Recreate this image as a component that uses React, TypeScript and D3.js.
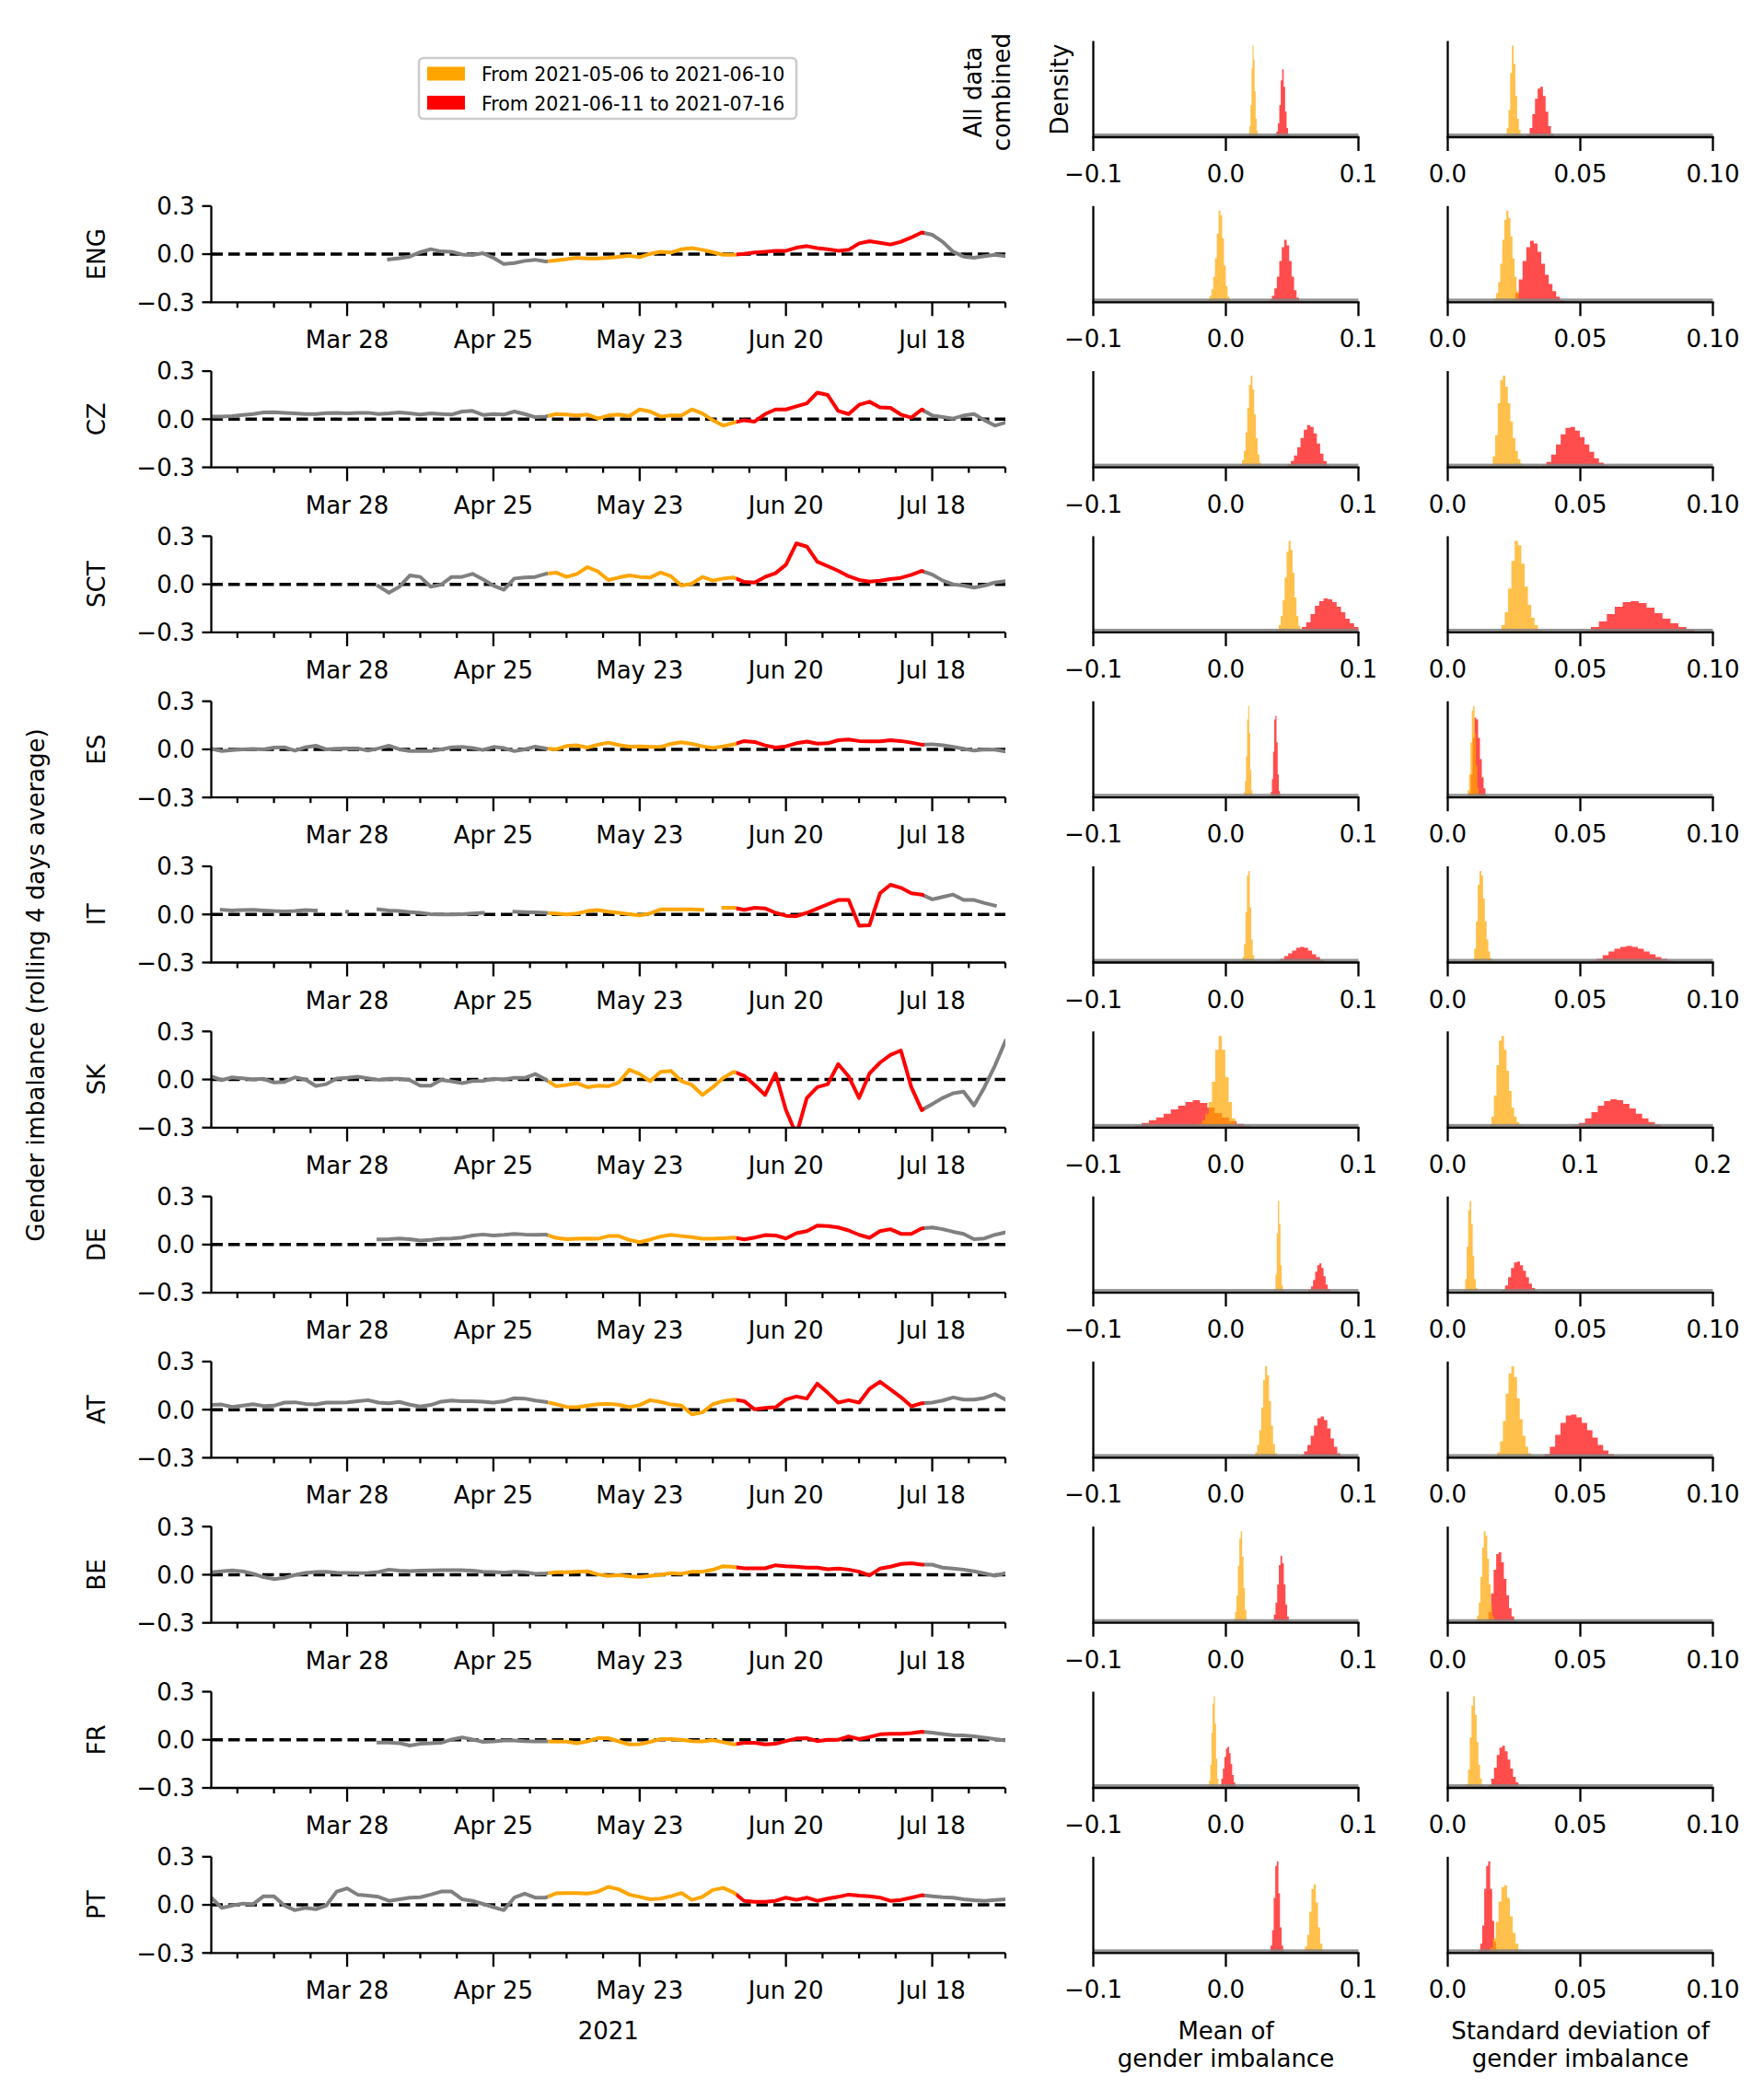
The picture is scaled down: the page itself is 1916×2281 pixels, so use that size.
import React from "react";
import * as d3 from "d3";

const W = 1916;
const H = 2281;

// time series: one value every STEP_DAYS days, starting FIRST_DAY days after 2021-03-02
const ROWS = ["ENG", "CZ", "SCT", "ES", "IT", "SK", "DE", "AT", "BE", "FR", "PT"];
const FIRST_DAY = [34, 0, 32, 0, 2, 0, 32, 0, 0, 32, 0];
const STEP_DAYS = 2;
const ORIGIN = "2021-03-02";
const LAST_DAY = 152;
const PHASE_STARTS = ["2021-05-06", "2021-06-11", "2021-07-17"];
const LEGEND_LABELS = ["From 2021-05-06 to 2021-06-10", "From 2021-06-11 to 2021-07-16"];

const ENG = [
  -0.033, -0.025, -0.015, 0.012, 0.031, 0.017, 0.015, -0.002, -0.006, 0.006,
  -0.023, -0.062, -0.056, -0.042, -0.035, -0.046, -0.038, -0.031, -0.023, -0.027,
  -0.027, -0.023, -0.017, -0.01, -0.019, 0.002, 0.015, 0.01, 0.031, 0.038,
  0.027, 0.012, -0.004, -0.004, 0.002, 0.01, 0.015, 0.021, 0.021, 0.04,
  0.05, 0.038, 0.031, 0.021, 0.027, 0.067, 0.081, 0.071, 0.06, 0.077,
  0.104, 0.135, 0.121, 0.077, 0.015, -0.015, -0.023, -0.013, -0.004, -0.013,
];
const CZ = [
  0.017, 0.017, 0.019, 0.027, 0.032, 0.042, 0.044, 0.04, 0.036, 0.032,
  0.032, 0.038, 0.04, 0.036, 0.04, 0.04, 0.032, 0.036, 0.042, 0.036,
  0.029, 0.036, 0.032, 0.029, 0.048, 0.052, 0.027, 0.032, 0.029, 0.048,
  0.032, 0.013, 0.017, 0.032, 0.029, 0.023, 0.029, 0.004, 0.023, 0.029,
  0.019, 0.061, 0.048, 0.017, 0.023, 0.023, 0.061, 0.036, -0.006, -0.04,
  -0.021, -0.006, -0.015, 0.032, 0.061, 0.061, 0.08, 0.099, 0.166, 0.151,
  0.052, 0.032, 0.09, 0.109, 0.074, 0.071, 0.029, 0.01, 0.061, 0.023,
  0.013, 0.004, 0.023, 0.032, -0.006, -0.04, -0.021,
];
const SCT = [
  -0.011, -0.053, -0.015, 0.055, 0.046, -0.015, -0.002, 0.046, 0.046, 0.065,
  0.031, -0.008, -0.034, 0.036, 0.042, 0.046, 0.065, 0.073, 0.046, 0.065,
  0.107, 0.08, 0.027, 0.042, 0.055, 0.046, 0.042, 0.074, 0.05, -0.008,
  0.004, 0.046, 0.023, 0.036, 0.042, 0.015, 0.011, 0.046, 0.069, 0.122,
  0.255, 0.235, 0.141, 0.113, 0.084, 0.05, 0.027, 0.017, 0.023, 0.032,
  0.04, 0.059, 0.084, 0.061, 0.023, 0.0, -0.008, -0.021, -0.008, 0.011,
  0.019,
];
const ES = [
  0.004, -0.01, -0.004, 0.0, 0.002, 0.0, 0.011, 0.013, -0.008, 0.013,
  0.023, 0.0, 0.004, 0.006, 0.006, -0.008, 0.006, 0.023, 0.0, -0.011,
  -0.011, -0.011, 0.0, 0.013, 0.015, 0.008, -0.004, 0.015, 0.008, -0.011,
  0.0, 0.017, 0.006, 0.0, 0.021, 0.025, 0.011, 0.029, 0.042, 0.027,
  0.017, 0.019, 0.015, 0.015, 0.034, 0.044, 0.034, 0.019, 0.008, 0.019,
  0.031, 0.052, 0.046, 0.025, 0.011, 0.019, 0.038, 0.048, 0.036, 0.038,
  0.057, 0.061, 0.052, 0.05, 0.05, 0.057, 0.052, 0.042, 0.029, 0.032,
  0.025, 0.015, 0.004, -0.008, 0.0, -0.002, -0.013,
];
const IT = [
  0.029, 0.025, 0.027, 0.029, 0.025, 0.021, 0.019, 0.021, 0.027, 0.025,
  null, null, 0.017, null, null, 0.032, 0.025, 0.021, 0.015, 0.01,
  0.002, 0.0, 0.0, 0.002, 0.006, 0.01, null, null, 0.017, 0.015,
  0.013, 0.01, 0.006, 0.0, 0.006, 0.021, 0.027, 0.017, 0.01, 0.002,
  -0.006, 0.006, 0.031, 0.032, 0.032, 0.031, 0.029, null, 0.042, 0.042,
  0.029, 0.042, 0.038, 0.01, -0.008, -0.011, 0.01, 0.036, 0.063, 0.09,
  0.09, -0.071, -0.067, 0.132, 0.185, 0.166, 0.132, 0.124, 0.094, 0.109,
  0.124, 0.09, 0.09, 0.071, 0.055,
];
const SK = [
  0.019, -0.004, 0.013, 0.008, 0.0, 0.004, -0.019, -0.015, 0.013, 0.0,
  -0.04, -0.029, 0.006, 0.011, 0.017, 0.008, -0.002, 0.004, 0.004, -0.004,
  -0.038, -0.038, -0.002, -0.011, -0.023, -0.01, -0.008, 0.004, 0.0, 0.011,
  0.01, 0.034, 0.0, -0.042, -0.034, -0.023, -0.048, -0.038, -0.042, -0.019,
  0.061, 0.034, -0.01, 0.048, 0.053, -0.01, -0.034, -0.096, -0.048, 0.01,
  0.048, 0.023, -0.034, -0.096, 0.038, -0.191, -0.344, -0.115, -0.048, -0.029,
  0.096, 0.019, -0.115, 0.038, 0.105, 0.153, 0.181, -0.048, -0.191, -0.153,
  -0.115, -0.086, -0.076, -0.162, -0.048, 0.086, 0.239,
];
const DE = [
  0.032, 0.034, 0.038, 0.034, 0.025, 0.029, 0.036, 0.038, 0.044, 0.057,
  0.063, 0.057, 0.061, 0.067, 0.063, 0.061, 0.063, 0.042, 0.034, 0.036,
  0.038, 0.036, 0.053, 0.053, 0.029, 0.015, 0.031, 0.05, 0.061, 0.053,
  0.046, 0.036, 0.036, 0.04, 0.044, 0.032, 0.044, 0.059, 0.057, 0.038,
  0.071, 0.084, 0.118, 0.115, 0.107, 0.088, 0.061, 0.042, 0.084, 0.096,
  0.067, 0.067, 0.101, 0.107, 0.096, 0.08, 0.067, 0.034, 0.038, 0.061,
  0.076,
];
const AT = [
  0.029, 0.032, 0.017, 0.025, 0.034, 0.023, 0.025, 0.044, 0.046, 0.036,
  0.032, 0.044, 0.044, 0.046, 0.052, 0.059, 0.044, 0.04, 0.048, 0.031,
  0.019, 0.029, 0.05, 0.057, 0.052, 0.053, 0.05, 0.044, 0.052, 0.071,
  0.069, 0.057, 0.048, 0.034, 0.017, 0.015, 0.025, 0.034, 0.036, 0.031,
  0.015, 0.029, 0.059, 0.048, 0.032, 0.025, -0.029, -0.017, 0.034, 0.053,
  0.063, 0.053, 0.002, 0.011, 0.015, 0.063, 0.082, 0.069, 0.162, 0.105,
  0.044, 0.059, 0.044, 0.13, 0.174, 0.126, 0.078, 0.021, 0.04, 0.044,
  0.057, 0.076, 0.063, 0.063, 0.073, 0.097, 0.063,
];
const BE = [
  0.015, 0.021, 0.027, 0.021, 0.006, -0.015, -0.027, -0.019, -0.002, 0.011,
  0.017, 0.019, 0.013, 0.011, 0.01, 0.011, 0.017, 0.032, 0.025, 0.023,
  0.025, 0.027, 0.029, 0.029, 0.029, 0.025, 0.019, 0.017, 0.013, 0.019,
  0.015, 0.006, 0.008, 0.015, 0.015, 0.019, 0.021, 0.002, -0.008, -0.002,
  -0.01, -0.013, -0.008, 0.0, 0.01, 0.006, 0.019, 0.019, 0.031, 0.053,
  0.048, 0.04, 0.04, 0.04, 0.059, 0.053, 0.05, 0.044, 0.044, 0.034,
  0.038, 0.032, 0.019, -0.004, 0.038, 0.05, 0.067, 0.071, 0.063, 0.063,
  0.044, 0.038, 0.032, 0.021, 0.008, -0.006, 0.01,
];
const FR = [
  -0.017, -0.017, -0.021, -0.036, -0.025, -0.021, -0.019, 0.002, 0.015, 0.002,
  -0.013, -0.01, -0.004, -0.004, -0.008, -0.01, -0.01, -0.011, -0.011, -0.021,
  -0.01, 0.011, 0.01, -0.01, -0.029, -0.027, -0.013, 0.004, 0.004, 0.0,
  -0.008, -0.01, -0.002, -0.015, -0.029, -0.019, -0.019, -0.029, -0.025, -0.008,
  0.008, 0.01, -0.008, 0.0, 0.0, 0.021, 0.004, 0.017, 0.034, 0.038,
  0.038, 0.042, 0.05, 0.044, 0.036, 0.029, 0.027, 0.021, 0.013, 0.004,
  -0.004,
];
const PT = [
  0.045, -0.019, -0.004, 0.008, 0.004, 0.054, 0.054, -0.004, -0.033, -0.019,
  -0.027, -0.004, 0.083, 0.103, 0.064, 0.058, 0.05, 0.025, 0.035, 0.045,
  0.048, 0.064, 0.083, 0.083, 0.035, 0.025, 0.006, -0.014, -0.033, 0.045,
  0.07, 0.045, 0.045, 0.072, 0.074, 0.074, 0.07, 0.083, 0.112, 0.097,
  0.064, 0.05, 0.035, 0.039, 0.054, 0.074, 0.031, 0.05, 0.093, 0.106,
  0.077, 0.025, 0.019, 0.019, 0.025, 0.045, 0.031, 0.045, 0.025, 0.039,
  0.05, 0.064, 0.058, 0.054, 0.045, 0.025, 0.031, 0.045, 0.06, 0.054,
  0.048, 0.045, 0.035, 0.029, 0.025, 0.031, 0.035,
];
const SERIES = [ENG, CZ, SCT, ES, IT, SK, DE, AT, BE, FR, PT];

// histograms: [lo, hi, bin heights (panel peak = 100)], row 0 = all data combined
type Hist = [number, number, number[]];
const MEAN_ORANGE: Hist[] = [
  [0.017, 0.0248, [4, 12, 35, 75, 100, 85, 50, 20, 7, 2]],
  [-0.015, 0.004, [1, 3, 7, 14, 28, 48, 75, 100, 95, 70, 40, 18, 6, 2]],
  [0.0096, 0.0279, [1, 3, 8, 18, 38, 65, 90, 100, 85, 58, 32, 14, 5, 1]],
  [0.0369, 0.0577, [1, 3, 8, 18, 35, 60, 88, 100, 90, 65, 38, 18, 7, 2]],
  [0.0128, 0.0208, [2, 6, 18, 45, 85, 100, 70, 30, 8, 2]],
  [0.0115, 0.0224, [2, 6, 20, 55, 95, 100, 60, 25, 8, 2]],
  [-0.0256, 0.0096, [1, 2, 4, 8, 15, 28, 50, 85, 100, 85, 55, 28, 10, 3]],
  [0.0365, 0.044, [4, 20, 65, 100, 75, 30, 8, 2]],
  [0.0192, 0.04, [1, 2, 6, 14, 30, 55, 85, 100, 90, 62, 35, 15, 5, 1]],
  [0.0048, 0.0176, [1, 4, 12, 30, 62, 92, 100, 72, 38, 14, 4, 1]],
  [-0.0135, -0.0048, [2, 8, 25, 60, 92, 100, 70, 32, 10, 2]],
  [0.058, 0.0744, [2, 7, 20, 45, 70, 75, 55, 28, 10, 3]],
];
const MEAN_RED: Hist[] = [
  [0.037, 0.048, [2, 6, 15, 35, 62, 74, 55, 28, 10, 3]],
  [0.031, 0.057, [1, 3, 7, 15, 28, 45, 60, 68, 62, 45, 28, 13, 5, 1]],
  [0.044, 0.0785, [1, 3, 7, 13, 22, 32, 41, 46, 44, 37, 26, 15, 7, 2]],
  [0.054, 0.1, [3, 6, 11, 20, 29, 34, 37, 36, 33, 28, 22, 15, 10, 6]],
  [0.033, 0.0417, [2, 6, 20, 50, 85, 89, 60, 25, 7, 2]],
  [0.035, 0.077, [1, 2, 4, 7, 10, 13, 16, 17, 16, 13, 9, 6, 3, 1]],
  [-0.069, 0.019, [2, 5, 8, 11, 15, 20, 24, 28, 30, 27, 22, 16, 11, 7, 4, 2]],
  [0.061, 0.08, [1, 3, 7, 14, 23, 30, 32, 27, 18, 9, 4, 1]],
  [0.054, 0.089, [1, 3, 7, 14, 24, 35, 43, 45, 41, 32, 21, 12, 5, 2]],
  [0.0337, 0.0487, [1, 3, 9, 22, 42, 63, 73, 65, 42, 20, 7, 2]],
  [-0.0058, 0.0083, [1, 4, 10, 21, 34, 43, 45, 38, 26, 14, 6, 2]],
  [0.0325, 0.0444, [2, 8, 25, 60, 95, 100, 65, 28, 8, 2]],
];
const STD_ORANGE: Hist[] = [
  [0.0216, 0.0281, [3, 10, 30, 70, 100, 80, 45, 20, 8, 3]],
  [0.0167, 0.0275, [1, 4, 10, 22, 42, 68, 90, 100, 92, 72, 48, 28, 12, 4]],
  [0.016, 0.0293, [3, 12, 35, 70, 95, 100, 88, 70, 50, 32, 18, 9, 4, 1]],
  [0.019, 0.0365, [2, 8, 22, 48, 78, 100, 95, 75, 50, 30, 16, 8, 3, 1]],
  [0.007, 0.0122, [2, 8, 25, 60, 95, 100, 70, 35, 10, 3]],
  [0.0093, 0.0173, [3, 15, 45, 85, 100, 95, 70, 45, 25, 12, 5, 2]],
  [0.031, 0.0577, [3, 12, 35, 68, 95, 100, 85, 62, 40, 22, 12, 6, 3, 1]],
  [0.006, 0.0117, [3, 15, 50, 90, 100, 75, 40, 15, 5, 1]],
  [0.0176, 0.0325, [2, 6, 18, 40, 70, 92, 100, 88, 65, 42, 24, 12, 5, 2]],
  [0.0104, 0.0181, [2, 8, 22, 50, 82, 100, 95, 70, 42, 20, 7, 2]],
  [0.007, 0.0135, [4, 20, 55, 90, 100, 80, 50, 25, 10, 3]],
  [0.0149, 0.0277, [2, 6, 16, 34, 56, 72, 74, 60, 40, 22, 10, 3]],
];
const STD_RED: Hist[] = [
  [0.0299, 0.0399, [3, 10, 25, 42, 53, 55, 45, 28, 12, 4]],
  [0.024, 0.0437, [3, 10, 25, 45, 60, 67, 64, 55, 42, 30, 20, 12, 6, 2]],
  [0.0354, 0.0606, [2, 6, 14, 25, 36, 43, 44, 40, 33, 25, 17, 10, 5, 2]],
  [0.051, 0.093, [2, 6, 12, 20, 28, 33, 34, 32, 27, 21, 15, 10, 6, 3]],
  [0.008, 0.0149, [5, 25, 65, 87, 85, 65, 42, 22, 10, 3]],
  [0.054, 0.085, [2, 4, 8, 12, 15, 17, 18, 17, 15, 12, 9, 6, 4, 2]],
  [0.094, 0.161, [2, 5, 10, 17, 24, 29, 31, 30, 26, 21, 15, 10, 6, 3]],
  [0.0205, 0.034, [3, 8, 17, 27, 33, 34, 30, 24, 17, 10, 5, 2]],
  [0.0365, 0.0646, [4, 12, 25, 38, 46, 47, 44, 38, 30, 22, 14, 8, 4, 2]],
  [0.0144, 0.026, [3, 12, 32, 58, 75, 77, 66, 48, 30, 16, 7, 2]],
  [0.0154, 0.0277, [3, 10, 22, 36, 44, 46, 40, 31, 21, 12, 6, 2]],
  [0.0115, 0.019, [3, 10, 30, 70, 95, 100, 70, 35, 12, 3]],
];
const PRIOR_LEVEL = 4;
const MEAN_TICKS = [-0.1, 0, 0.1];
const STD_TICKS = [[0, 0.05, 0.1], [0, 0.1, 0.2]];
const STD_TICK_LABELS = [["0.0", "0.05", "0.10"], ["0.0", "0.1", "0.2"]];
const STD_SCALE = [0, 0, 0, 0, 0, 0, 1, 0, 0, 0, 0, 0];

// layout
const FONT = "DejaVu Sans";
const FS = 26;
const TS_L = 229.5;
const TS_R = 1092;
const ROW0 = 44.5;
const ROW_STEP = 179.3;
const AX_H = 104.5;
const COL1: [number, number] = [1187.5, 1475.5];
const COL2: [number, number] = [1572.5, 1860.5];
const LW = 2.3;
const GREY = "#808080";
const ORANGE = "#ffa500";
const RED = "#ff0000";

const parse = d3.utcParse("%Y-%m-%d");
const t0 = parse(ORIGIN)!;
const dayDate = (d: number) => new Date(t0.getTime() + d * 864e5);
const dayOf = (s: string) => Math.round((parse(s)!.getTime() - t0.getTime()) / 864e5);

function stepPoints(h: Hist): [number, number][] {
  const [lo, hi, v] = h;
  const w = (hi - lo) / v.length;
  const p: [number, number][] = v.map((y, i) => [lo + i * w, y]);
  p.push([hi, v[v.length - 1]]);
  return p;
}

function HistPanel({ top, range, domain, ticks, labels, orange, red }: {
  top: number; range: [number, number]; domain: [number, number];
  ticks: number[]; labels: string[]; orange: Hist; red: Hist;
}) {
  const x = d3.scaleLinear().domain(domain).range(range);
  const y = d3.scaleLinear().domain([0, 105]).range([top + AX_H, top]);
  const area = d3.area<[number, number]>()
    .x((d) => x(d[0]))
    .y0(y(0))
    .y1((d) => y(d[1]))
    .curve(d3.curveStepAfter);
  const base = y(0);
  return (
    <g>
      <path d={area(stepPoints(red)) ?? ""} fill={RED} fillOpacity={0.7} />
      <path d={area(stepPoints(orange)) ?? ""} fill={ORANGE} fillOpacity={0.7} />
      <rect x={range[0]} width={range[1] - range[0]} y={y(PRIOR_LEVEL)} height={base - y(PRIOR_LEVEL)} fill={GREY} opacity={0.85} />
      <line x1={range[0]} x2={range[0]} y1={top} y2={base} stroke="#000" strokeWidth={LW} />
      <line x1={range[0] - LW / 2} x2={range[1] + LW / 2} y1={base} y2={base} stroke="#000" strokeWidth={LW} />
      {ticks.map((t, i) => (
        <g key={i}>
          <line x1={x(t)} x2={x(t)} y1={base} y2={base + 15} stroke="#000" strokeWidth={LW} />
          <text x={x(t)} y={base + 49} textAnchor="middle" fontSize={FS}>{labels[i]}</text>
        </g>
      ))}
    </g>
  );
}

export default function App() {
  const x = d3.scaleUtc().domain([dayDate(0), dayDate(LAST_DAY)]).range([TS_L, TS_R]);
  const [dA, dB, dC] = PHASE_STARTS.map(dayOf);
  const xA = x(dayDate(dA - 0.5));
  const xB = x(dayDate(dB - 0.5));
  const xC = x(dayDate(dC - 0.5));
  const sundays = d3.utcSunday.range(dayDate(0), dayDate(LAST_DAY + 1));
  const majorRef = parse("2021-03-28")!.getTime();
  const isMajor = (d: Date) => Math.round((d.getTime() - majorRef) / 864e5) % 28 === 0;
  const fmtDate = d3.utcFormat("%b %-d");
  const fmtY = d3.format(".1f");

  return (
    <svg width={W} height={H} style={{ position: "absolute", left: 0, top: 0, background: "#fff" }} fontFamily={FONT}>
      <defs>
        {ROWS.map((_, k) => {
          const top = ROW0 + (k + 1) * ROW_STEP;
          return (
            <g key={k}>
              <clipPath id={`grey${k}`}>
                <rect x={TS_L} y={top} width={xA - TS_L} height={AX_H} />
                <rect x={xC} y={top} width={TS_R - xC} height={AX_H} />
              </clipPath>
              <clipPath id={`orange${k}`}>
                <rect x={xA} y={top} width={xB - xA} height={AX_H} />
              </clipPath>
              <clipPath id={`red${k}`}>
                <rect x={xB} y={top} width={xC - xB} height={AX_H} />
              </clipPath>
            </g>
          );
        })}
      </defs>

      {/* legend */}
      <rect x={455} y={63} width={410} height={66} rx={5} fill="#fff" stroke="#cccccc" strokeWidth={2.6} />
      <rect x={464} y={72.5} width={41} height={15} fill={ORANGE} />
      <rect x={464} y={104} width={41} height={15} fill={RED} />
      <text x={523} y={88} fontSize={20.5}>{LEGEND_LABELS[0]}</text>
      <text x={523} y={119.5} fontSize={20.5}>{LEGEND_LABELS[1]}</text>

      {/* time series rows */}
      {ROWS.map((name, k) => {
        const top = ROW0 + (k + 1) * ROW_STEP;
        const bottom = top + AX_H;
        const y = d3.scaleLinear().domain([-0.3, 0.3]).range([bottom, top]);
        const vals = SERIES[k];
        const pts = vals.map((v, i) => ({ d: dayDate(FIRST_DAY[k] + i * STEP_DAYS), v }));
        const line = d3.line<{ d: Date; v: number | null }>()
          .defined((p) => p.v !== null)
          .x((p) => x(p.d))
          .y((p) => y(p.v as number));
        const path = line(pts) ?? "";
        return (
          <g key={name}>
            <line x1={TS_L} x2={TS_R} y1={y(0)} y2={y(0)} stroke="#000" strokeWidth={3.5} strokeDasharray="12.5,6" />
            {[["grey", GREY], ["orange", ORANGE], ["red", RED]].map(([id, c]) => (
              <path key={id} d={path} fill="none" stroke={c} strokeWidth={4} strokeLinejoin="round" strokeLinecap="square" clipPath={`url(#${id}${k})`} />
            ))}
            <line x1={TS_L} x2={TS_L} y1={top} y2={bottom} stroke="#000" strokeWidth={LW} />
            <line x1={TS_L - LW / 2} x2={TS_R} y1={bottom} y2={bottom} stroke="#000" strokeWidth={LW} />
            {[-0.3, 0, 0.3].map((t) => (
              <g key={t}>
                <line x1={TS_L - 10} x2={TS_L} y1={y(t)} y2={y(t)} stroke="#000" strokeWidth={LW} />
                <text x={TS_L - 18} y={y(t)} dy="0.36em" textAnchor="end" fontSize={FS}>{fmtY(t)}</text>
              </g>
            ))}
            {sundays.map((s) => (
              <line key={s.getTime()} x1={x(s)} x2={x(s)} y1={bottom} y2={bottom + (isMajor(s) ? 15 : 6)} stroke="#000" strokeWidth={LW} />
            ))}
            {sundays.filter(isMajor).map((s) => (
              <text key={s.getTime()} x={x(s)} y={bottom + 50} textAnchor="middle" fontSize={FS}>{fmtDate(s)}</text>
            ))}
            <text transform={`translate(114,${y(0)}) rotate(-90)`} textAnchor="middle" fontSize={FS}>{name}</text>
          </g>
        );
      })}

      {/* histogram columns */}
      {MEAN_ORANGE.map((_, r) => {
        const top = ROW0 + r * ROW_STEP;
        const s = STD_SCALE[r];
        const sTicks = STD_TICKS[s];
        return (
          <g key={r}>
            <HistPanel top={top} range={COL1} domain={[-0.1, 0.1]} ticks={MEAN_TICKS}
              labels={MEAN_TICKS.map((t) => fmtY(t))} orange={MEAN_ORANGE[r]} red={MEAN_RED[r]} />
            <HistPanel top={top} range={COL2} domain={[0, sTicks[2]]} ticks={sTicks}
              labels={STD_TICK_LABELS[s]} orange={STD_ORANGE[r]} red={STD_RED[r]} />
          </g>
        );
      })}

      {/* labels */}
      <text transform="translate(1066,100) rotate(-90)" textAnchor="middle" fontSize={FS}>All data</text>
      <text transform="translate(1097,100) rotate(-90)" textAnchor="middle" fontSize={FS}>combined</text>
      <text transform="translate(1160,97) rotate(-90)" textAnchor="middle" fontSize={FS}>Density</text>
      <text transform="translate(48,1070) rotate(-90)" textAnchor="middle" fontSize={FS}>Gender imbalance (rolling 4 days average)</text>
      <text x={(TS_L + TS_R) / 2} y={2215} textAnchor="middle" fontSize={FS}>2021</text>
      <text x={(COL1[0] + COL1[1]) / 2} y={2215} textAnchor="middle" fontSize={FS}>Mean of</text>
      <text x={(COL1[0] + COL1[1]) / 2} y={2245} textAnchor="middle" fontSize={FS}>gender imbalance</text>
      <text x={(COL2[0] + COL2[1]) / 2} y={2215} textAnchor="middle" fontSize={FS}>Standard deviation of</text>
      <text x={(COL2[0] + COL2[1]) / 2} y={2245} textAnchor="middle" fontSize={FS}>gender imbalance</text>
    </svg>
  );
}
